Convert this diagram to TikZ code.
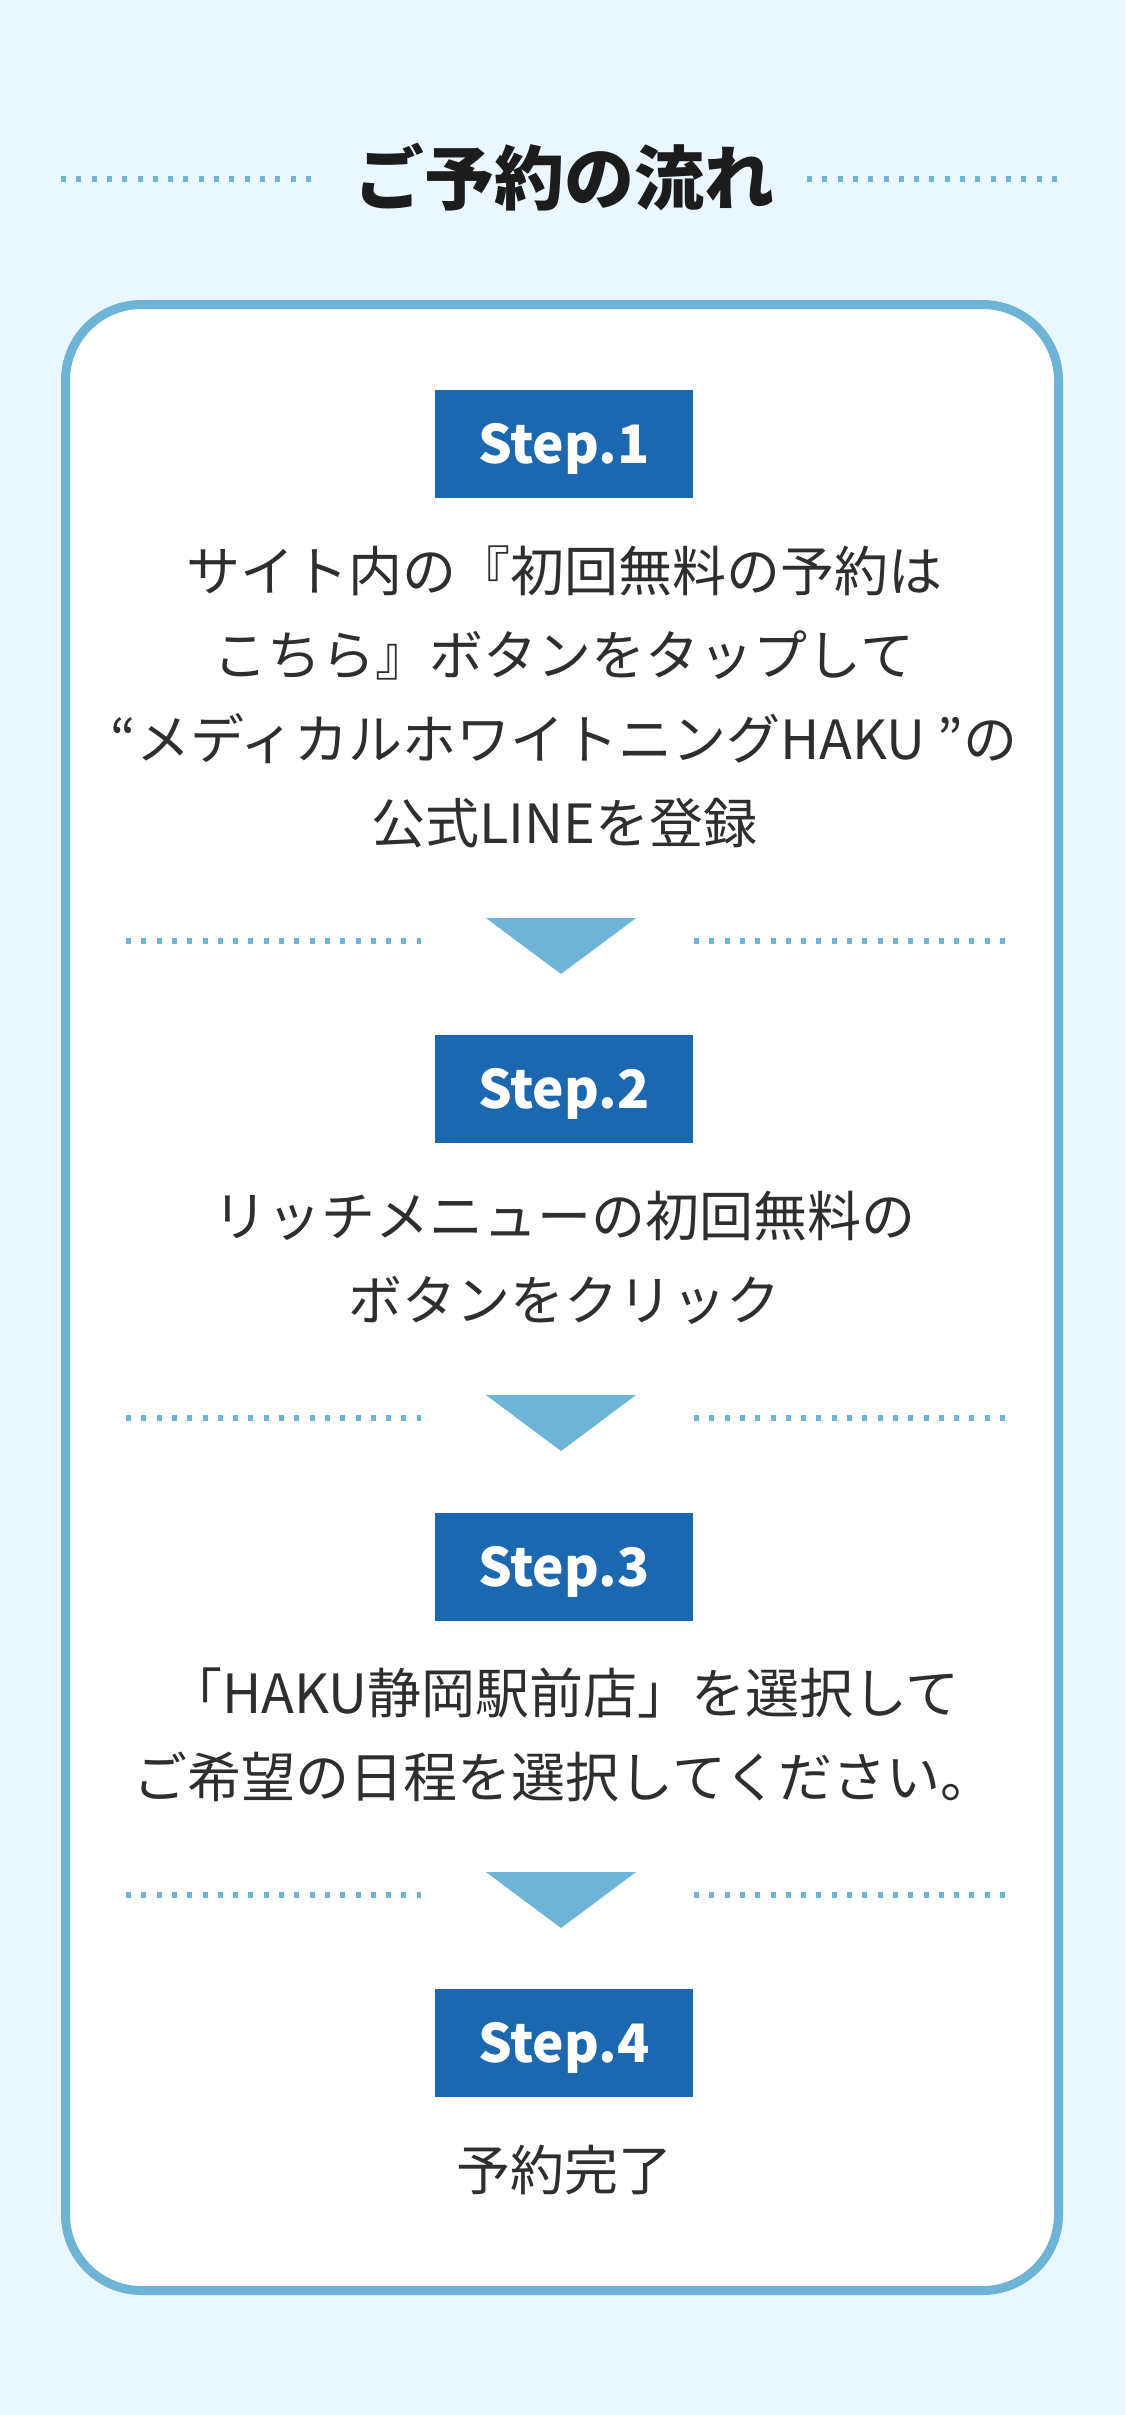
\documentclass[tikz,border=0pt]{standalone}
\usepackage{fontspec}
\newfontfamily\jp{Noto Sans CJK JP}
\definecolor{bgblue}{HTML}{EAF7FE}
\definecolor{framecol}{HTML}{6EB4D6}
\definecolor{stepblue}{HTML}{1B67B0}
\definecolor{textgray}{HTML}{2E2E2E}
\definecolor{titlecol}{HTML}{1C1C1C}
\tikzset{
  dotline/.style={draw=framecol, line width=5.5pt, dash pattern=on 5pt off 10.3pt},
  stepbox/.style={fill=stepblue, minimum width=258pt, minimum height=108pt, inner sep=0pt,
    text=white, font=\jp\bfseries\fontsize{53}{53}\selectfont, text height=39pt, text depth=0pt},
  bodytext/.style={font=\jp\fontsize{54}{84}\selectfont, text=textgray, anchor=base, inner sep=0pt},
  arrowtri/.style={fill=framecol},
}
\begin{document}
\begin{tikzpicture}[x=1pt,y=-1pt]
\fill[bgblue] (0,0) rectangle (1125,2415);
\useasboundingbox (0,0) rectangle (1125,2415);
% title
\node[font=\jp\bfseries\fontsize{70}{70}\selectfont, text=titlecol, anchor=base, inner sep=0pt] (title) at (564,204) {ご予約の流れ};
\draw[dotline] (61,179) -- (320,179);
\draw[dotline] (807,179) -- (1066,179);
% frame
\draw[draw=framecol, fill=white, line width=9pt, rounded corners=76pt] (65.5,304.5) rectangle (1058.5,2290.5);
% step 1
\node[stepbox] (step1) at (564,444) {Step.1};
\node[bodytext] (s1a) at (564,591) {サイト内の『初回無料の予約は};
\node[bodytext] (s1b) at (564,675) {こちら』ボタンをタップして};
\node[bodytext] (s1c) at (564,759) {“メディカルホワイトニングHAKU ”の};
\node[bodytext] (s1d) at (564,843) {公式LINEを登録};
% separator 1
\draw[dotline] (126,941) -- (421,941);
\draw[dotline] (694,941) -- (1009,941);
\fill[arrowtri] (486,918) -- (636,918) -- (561,974) -- cycle;
% step 2
\node[stepbox] (step2) at (564,1089) {Step.2};
\node[bodytext] (s2a) at (564,1236) {リッチメニューの初回無料の};
\node[bodytext] (s2b) at (564,1320) {ボタンをクリック};
% separator 2
\draw[dotline] (126,1418) -- (421,1418);
\draw[dotline] (694,1418) -- (1009,1418);
\fill[arrowtri] (486,1395) -- (636,1395) -- (561,1451) -- cycle;
% step 3
\node[stepbox] (step3) at (564,1567) {Step.3};
\node[bodytext] (s3a) at (564,1713) {「HAKU静岡駅前店」を選択して};
\node[bodytext] (s3b) at (564,1797) {ご希望の日程を選択してください。};
% separator 3
\draw[dotline] (126,1895) -- (421,1895);
\draw[dotline] (694,1895) -- (1009,1895);
\fill[arrowtri] (486,1872) -- (636,1872) -- (561,1928) -- cycle;
% step 4
\node[stepbox] (step4) at (564,2043) {Step.4};
\node[bodytext] (s4a) at (564,2190) {予約完了};
\end{tikzpicture}
\end{document}
